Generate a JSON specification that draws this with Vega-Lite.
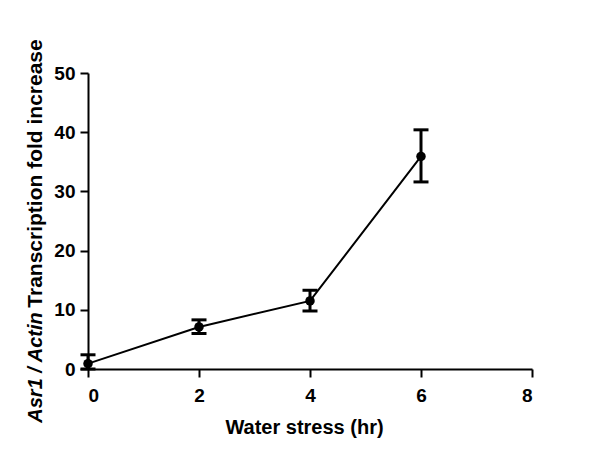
{
  "$schema": "https://vega.github.io/schema/vega-lite/v6.json",
  "width": 444,
  "height": 296,
  "autosize": "none",
  "padding": {"left": 88, "top": 73, "right": 68, "bottom": 94},
  "background": "white",
  "data": {"values": [
    {"t": 0, "mean": 0.9, "lo": 0, "hi": 2.4},
    {"t": 2, "mean": 7.1, "lo": 6.0, "hi": 8.3},
    {"t": 4, "mean": 11.5, "lo": 9.8, "hi": 13.3},
    {"t": 6, "mean": 35.9, "lo": 31.6, "hi": 40.4}
  ]},
  "config": {
    "view": {"stroke": null},
    "axis": {
      "grid": false,
      "domainColor": "black",
      "domainWidth": 2,
      "tickColor": "black",
      "tickWidth": 2,
      "tickSize": 8,
      "labelFont": "Liberation Sans",
      "labelFontWeight": "bold",
      "labelFontSize": 19,
      "labelColor": "black",
      "titleFont": "Liberation Sans",
      "titleFontWeight": "bold",
      "titleFontSize": 20,
      "titleColor": "black"
    }
  },
  "resolve": {"axis": {"y": "independent"}},
  "layer": [
    {
      "mark": {"type": "line", "color": "black", "strokeWidth": 2},
      "encoding": {
        "x": {"field": "t", "type": "quantitative", "scale": {"domain": [0, 8]},
          "axis": {"values": [0, 2, 4, 6, 8], "format": "d", "title": "Water stress (hr)", "titleX": 216, "titleY": 58, "titleBaseline": "middle", "labelPadding": 9}},
        "y": {"field": "mean", "type": "quantitative", "scale": {"domain": [0, 50]},
          "axis": {"orient": "left", "values": [0, 10, 20, 30, 40, 50], "format": "d", "title": "Transcription fold increase", "titleFontSize": 21, "titleX": -53, "titleY": 100, "titleBaseline": "middle", "titleAngle": 270, "labelPadding": 5}}
      }
    },
    {
      "mark": {"type": "rule", "color": "black", "strokeWidth": 3},
      "encoding": {
        "x": {"field": "t", "type": "quantitative"},
        "y": {"field": "lo", "type": "quantitative", "axis": {"orient": "left", "title": "Asr1 / Actin", "titleFontStyle": "italic", "labels": false, "ticks": false, "domain": false, "titleX": -53, "titleY": 294, "titleBaseline": "middle", "titleAngle": 270}},
        "y2": {"field": "hi"}
      }
    },
    {
      "mark": {"type": "tick", "color": "black", "thickness": 3, "size": 15, "orient": "horizontal", "opacity": 1},
      "encoding": {
        "x": {"field": "t", "type": "quantitative"},
        "y": {"field": "hi", "type": "quantitative", "axis": null}
      }
    },
    {
      "mark": {"type": "tick", "color": "black", "thickness": 3, "size": 15, "orient": "horizontal", "opacity": 1},
      "encoding": {
        "x": {"field": "t", "type": "quantitative"},
        "y": {"field": "lo", "type": "quantitative", "axis": null}
      }
    },
    {
      "mark": {"type": "point", "filled": true, "color": "black", "opacity": 1, "size": 90},
      "encoding": {
        "x": {"field": "t", "type": "quantitative"},
        "y": {"field": "mean", "type": "quantitative", "axis": null}
      }
    }
  ]
}
